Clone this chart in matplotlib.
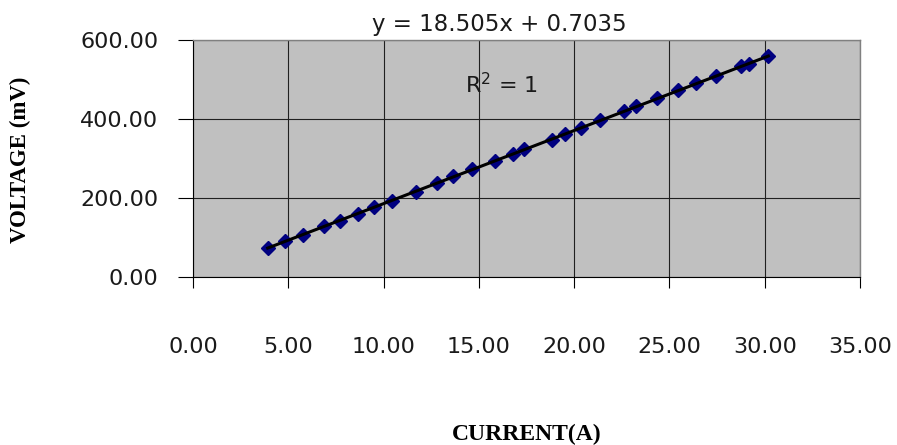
import matplotlib
matplotlib.use("Agg")
import matplotlib.pyplot as plt
import numpy as np
from matplotlib.ticker import FormatStrFormatter, MultipleLocator

# measured current (A) vs voltage (mV)
current = [3.92, 4.85, 5.78, 6.88, 7.72, 8.64, 9.51, 10.44, 11.68, 12.79,
           13.66, 14.62, 15.85, 16.78, 17.37, 18.82, 19.52, 20.34, 21.36, 22.62,
           23.24, 24.36, 25.47, 26.39, 27.44, 28.74, 29.19, 30.19]
voltage = [72.6, 91.0, 106.0, 130.0, 142.6, 159.5, 177.5, 193.0, 216.0, 237.0,
           256.0, 273.0, 294.0, 311.0, 323.0, 348.0, 362.0, 376.0, 397.0, 420.0,
           432.0, 453.0, 473.0, 490.0, 509.0, 534.0, 540.0, 559.5]

# linear trendline
slope = 18.505
intercept = 0.7035
r_squared = 1

SANS = "DejaVu Sans"
SERIF = "Liberation Serif"
TEXT_COLOR = "#1a1a1a"

fig = plt.figure(figsize=(8.97, 4.45), dpi=100)
ax = fig.add_axes([193 / 897, 1 - 277 / 445, 667 / 897, 237 / 445])
ax.set_facecolor("#c0c0c0")

ax.set_xlim(0, 35)
ax.set_ylim(0, 600)
ax.xaxis.set_major_locator(MultipleLocator(5))
ax.yaxis.set_major_locator(MultipleLocator(200))
ax.xaxis.set_major_formatter(FormatStrFormatter("%.2f"))
ax.yaxis.set_major_formatter(FormatStrFormatter("%.2f"))
ax.grid(True, color="#202020", linewidth=0.8)
ax.set_axisbelow(True)

ax.tick_params(axis="x", direction="out", length=8, width=0.8, pad=35,
               labelsize=16, labelcolor=TEXT_COLOR)
ax.tick_params(axis="y", direction="out", length=10.8, width=0.8, pad=14,
               labelsize=16, labelcolor=TEXT_COLOR)
for lab in ax.get_xticklabels() + ax.get_yticklabels():
    lab.set_fontfamily(SANS)

for side in ("left", "bottom"):
    ax.spines[side].set_color("black")
    ax.spines[side].set_linewidth(0.8)
for side in ("top", "right"):
    ax.spines[side].set_color("#808080")
    ax.spines[side].set_linewidth(1.0)

# points and fitted line
ax.plot(current, voltage, linestyle="none", marker="D", markersize=7.5,
        color="#000080", zorder=3)
xs = np.array([current[0], current[-1]])
ax.plot(xs, slope * xs + intercept, color="black", linewidth=2.2, zorder=4)

ax.text(0.459, 1.0675, f"y = {slope}x + {intercept}", transform=ax.transAxes,
        ha="center", va="center", fontsize=16.5, family=SANS,
        color=TEXT_COLOR, clip_on=False)
ax.text(0.408, 0.81, f"R$^2$ = {r_squared}", transform=ax.transAxes,
        ha="left", va="center", fontsize=16, family=SANS, color=TEXT_COLOR)

fig.text(20 / 897, 1 - 160 / 445, "VOLTAGE (mV)", rotation=90, ha="center",
         va="center", fontsize=16.5, fontweight="bold", family=SERIF)
fig.text(527 / 897, 1 - 440 / 445, "CURRENT(A)", ha="center", va="baseline",
         fontsize=17, fontweight="bold", family=SERIF)

fig.savefig("out.png", dpi=100, facecolor="white")
